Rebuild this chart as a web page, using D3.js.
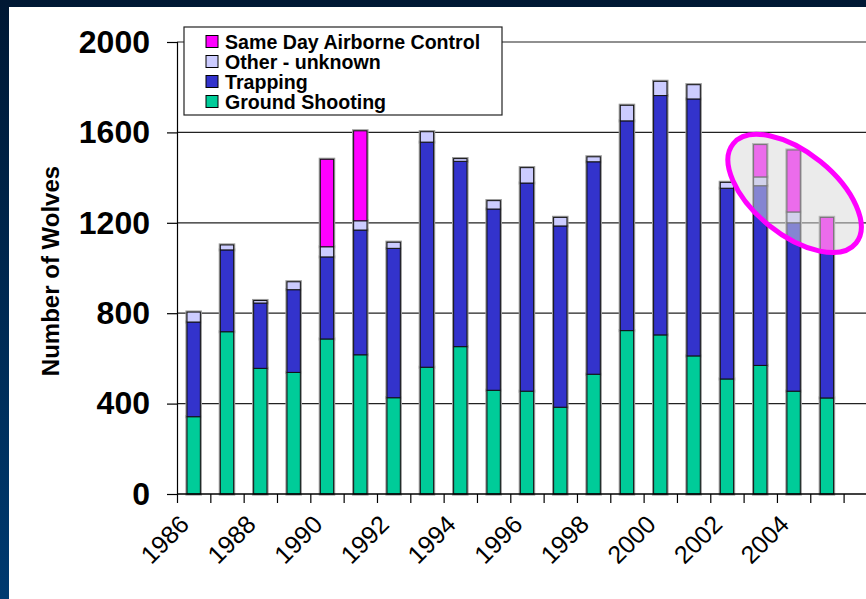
<!DOCTYPE html>
<html>
<head>
<meta charset="utf-8">
<script src="https://cdn.jsdelivr.net/npm/d3@7"></script>
<style>
  html, body { margin: 0; padding: 0; background: #002244; }
  svg { display: block; }
  text { font-family: "Liberation Sans", Arial, sans-serif; }
</style>
</head>
<body>
<svg id="chart" width="866" height="599"></svg>
<script>
const years = ["1986","1987","1988","1989","1990","1991","1992","1993","1994","1995",
               "1996","1997","1998","1999","2000","2001","2002","2003","2004","2005"];
const groundShooting = [342,718,556,538,686,616,426,561,652,459,455,384,530,723,704,611,509,569,455,425];
const trapping       = [419,362,289,366,363,552,661,996,820,802,921,802,940,928,1059,1137,844,795,745,650];
const otherUnknown   = [44,22,11,35,45,41,27,46,12,37,68,38,22,69,63,63,26,39,48,0];
const airborne       = [0,0,0,0,387,398,0,0,0,0,0,0,0,0,0,0,0,143,274,149];
const yTicks = [0,400,800,1200,1600,2000];
const xLabels = ["1986","1988","1990","1992","1994","1996","1998","2000","2002","2004"];
const seriesNames = ["Ground Shooting","Trapping","Other - unknown","Same Day Airborne Control"];
const seriesColors = ["#00CC99","#3333CC","#CCCCFF","#FF00FF"];
const highlightYears = ["2003","2004","2005"];

(function(){
const svg = d3.select("#chart");
const W = 866, H = 599;

// background frame
const defs = svg.append("defs");
const grad = defs.append("linearGradient").attr("id","bg").attr("x1",0).attr("y1",0).attr("x2",0).attr("y2",1);
grad.append("stop").attr("offset","0%").attr("stop-color","#001834");
grad.append("stop").attr("offset","100%").attr("stop-color","#003a70");
svg.append("rect").attr("width",W).attr("height",H).attr("fill","url(#bg)");
svg.append("rect").attr("x",9).attr("y",7).attr("width",W-9).attr("height",H-7).attr("fill","#ffffff");

const pl = 177, pr = 843.6, pt = 42, pb = 494;
const x = d3.scaleBand().domain(years).range([pl,pr]).paddingInner(0.6).paddingOuter(0.3);
const xBound = d3.scaleLinear().domain([0,years.length]).range([pl,pr]);
const y = d3.scaleLinear().domain([0,2000]).range([pb,pt]);

// gridlines
svg.append("g").selectAll("line").data(yTicks.filter(d=>d>0)).join("line")
  .attr("x1",pl).attr("x2",W).attr("y1",d=>y(d)).attr("y2",d=>y(d))
  .attr("stroke","#222").attr("stroke-width",1.2);

// stacked data
const rows = years.map((yr,i)=>({year:yr, "Ground Shooting":groundShooting[i], "Trapping":trapping[i],
  "Other - unknown":otherUnknown[i], "Same Day Airborne Control":airborne[i]}));
const stack = d3.stack().keys(seriesNames)(rows);
const color = d3.scaleOrdinal().domain(seriesNames).range(seriesColors);

// shadows
const shadow = svg.append("g");
stack.forEach(s=>{
  shadow.selectAll(null).data(s.filter(d=>d[1]-d[0]>0)).join("rect")
    .attr("x",d=>x(d.data.year)).attr("width",x.bandwidth())
    .attr("y",d=>y(d[1])).attr("height",d=>y(d[0])-y(d[1]))
    .attr("fill","none").attr("stroke","#9a9a9a").attr("stroke-width",3.2);
});
const bars = svg.append("g");
stack.forEach(s=>{
  bars.selectAll(null).data(s.filter(d=>d[1]-d[0]>0)).join("rect")
    .attr("x",d=>x(d.data.year)).attr("width",x.bandwidth())
    .attr("y",d=>y(d[1])).attr("height",d=>y(d[0])-y(d[1]))
    .attr("fill",color(s.key)).attr("stroke","#111").attr("stroke-width",1);
});

// y axis
const yAxis = svg.append("g").attr("transform",`translate(${pl},0)`)
  .call(d3.axisLeft(y).tickValues(yTicks).tickSize(10).tickPadding(17).tickFormat(d3.format("d")));
yAxis.select(".domain").attr("stroke","#000").attr("stroke-width",1.2);
yAxis.selectAll(".tick line").attr("stroke","#000").attr("stroke-width",1.2);
yAxis.selectAll("text").attr("font-size",32).attr("font-weight","bold").attr("fill","#000")
  .style("font-family","'Liberation Sans', Arial, sans-serif");

// x axis
const xAxis = svg.append("g").attr("transform",`translate(0,${pb})`)
  .call(d3.axisBottom(xBound).tickValues(d3.range(years.length+1)).tickSize(9).tickFormat(""));
xAxis.select(".domain").remove();
xAxis.selectAll(".tick line").attr("stroke","#000").attr("stroke-width",1.2);
svg.append("line").attr("x1",pl).attr("x2",W).attr("y1",pb).attr("y2",pb)
  .attr("stroke","#000").attr("stroke-width",1.4);

svg.append("g").selectAll("text").data(xLabels).join("text")
  .attr("transform",d=>`translate(${x(d)+x.bandwidth()/2-3},${pb+32}) rotate(-45)`)
  .attr("text-anchor","end").attr("font-size",25).attr("fill","#000").text(d=>d);

// y label
svg.append("text").attr("transform",`translate(59,271) rotate(-90)`)
  .attr("text-anchor","middle").attr("font-size",24).attr("font-weight","bold").attr("fill","#000")
  .text("Number of Wolves");

// legend
const lg = svg.append("g");
lg.append("rect").attr("x",184).attr("y",27).attr("width",318).attr("height",88)
  .attr("fill","#fff").attr("stroke","#222").attr("stroke-width",1.2);
const legendOrder = seriesNames.slice().reverse();
legendOrder.forEach((n,i)=>{
  const cy = 41.5 + i*20;
  lg.append("rect").attr("x",206).attr("y",cy-6).attr("width",12).attr("height",12)
    .attr("fill",color(n)).attr("stroke","#000").attr("stroke-width",1);
  lg.append("text").attr("x",225).attr("y",cy).attr("dy","0.36em").attr("font-size",19.6)
    .attr("font-weight","bold").attr("fill","#000").text(n);
});

// highlight ellipse around recent years
const hx0 = x(highlightYears[0]), hx1 = x(highlightYears[highlightYears.length-1]) + x.bandwidth();
const ecx = (hx0+hx1)/2 + 1, ecy = y(1330);
svg.append("ellipse").attr("cx",ecx).attr("cy",ecy).attr("rx",79).attr("ry",41)
  .attr("transform",`rotate(39,${ecx},${ecy})`)
  .attr("fill","#d8d8d8").attr("fill-opacity",0.5)
  .attr("stroke","#FF00FF").attr("stroke-width",5);
})();
</script>
</body>
</html>
